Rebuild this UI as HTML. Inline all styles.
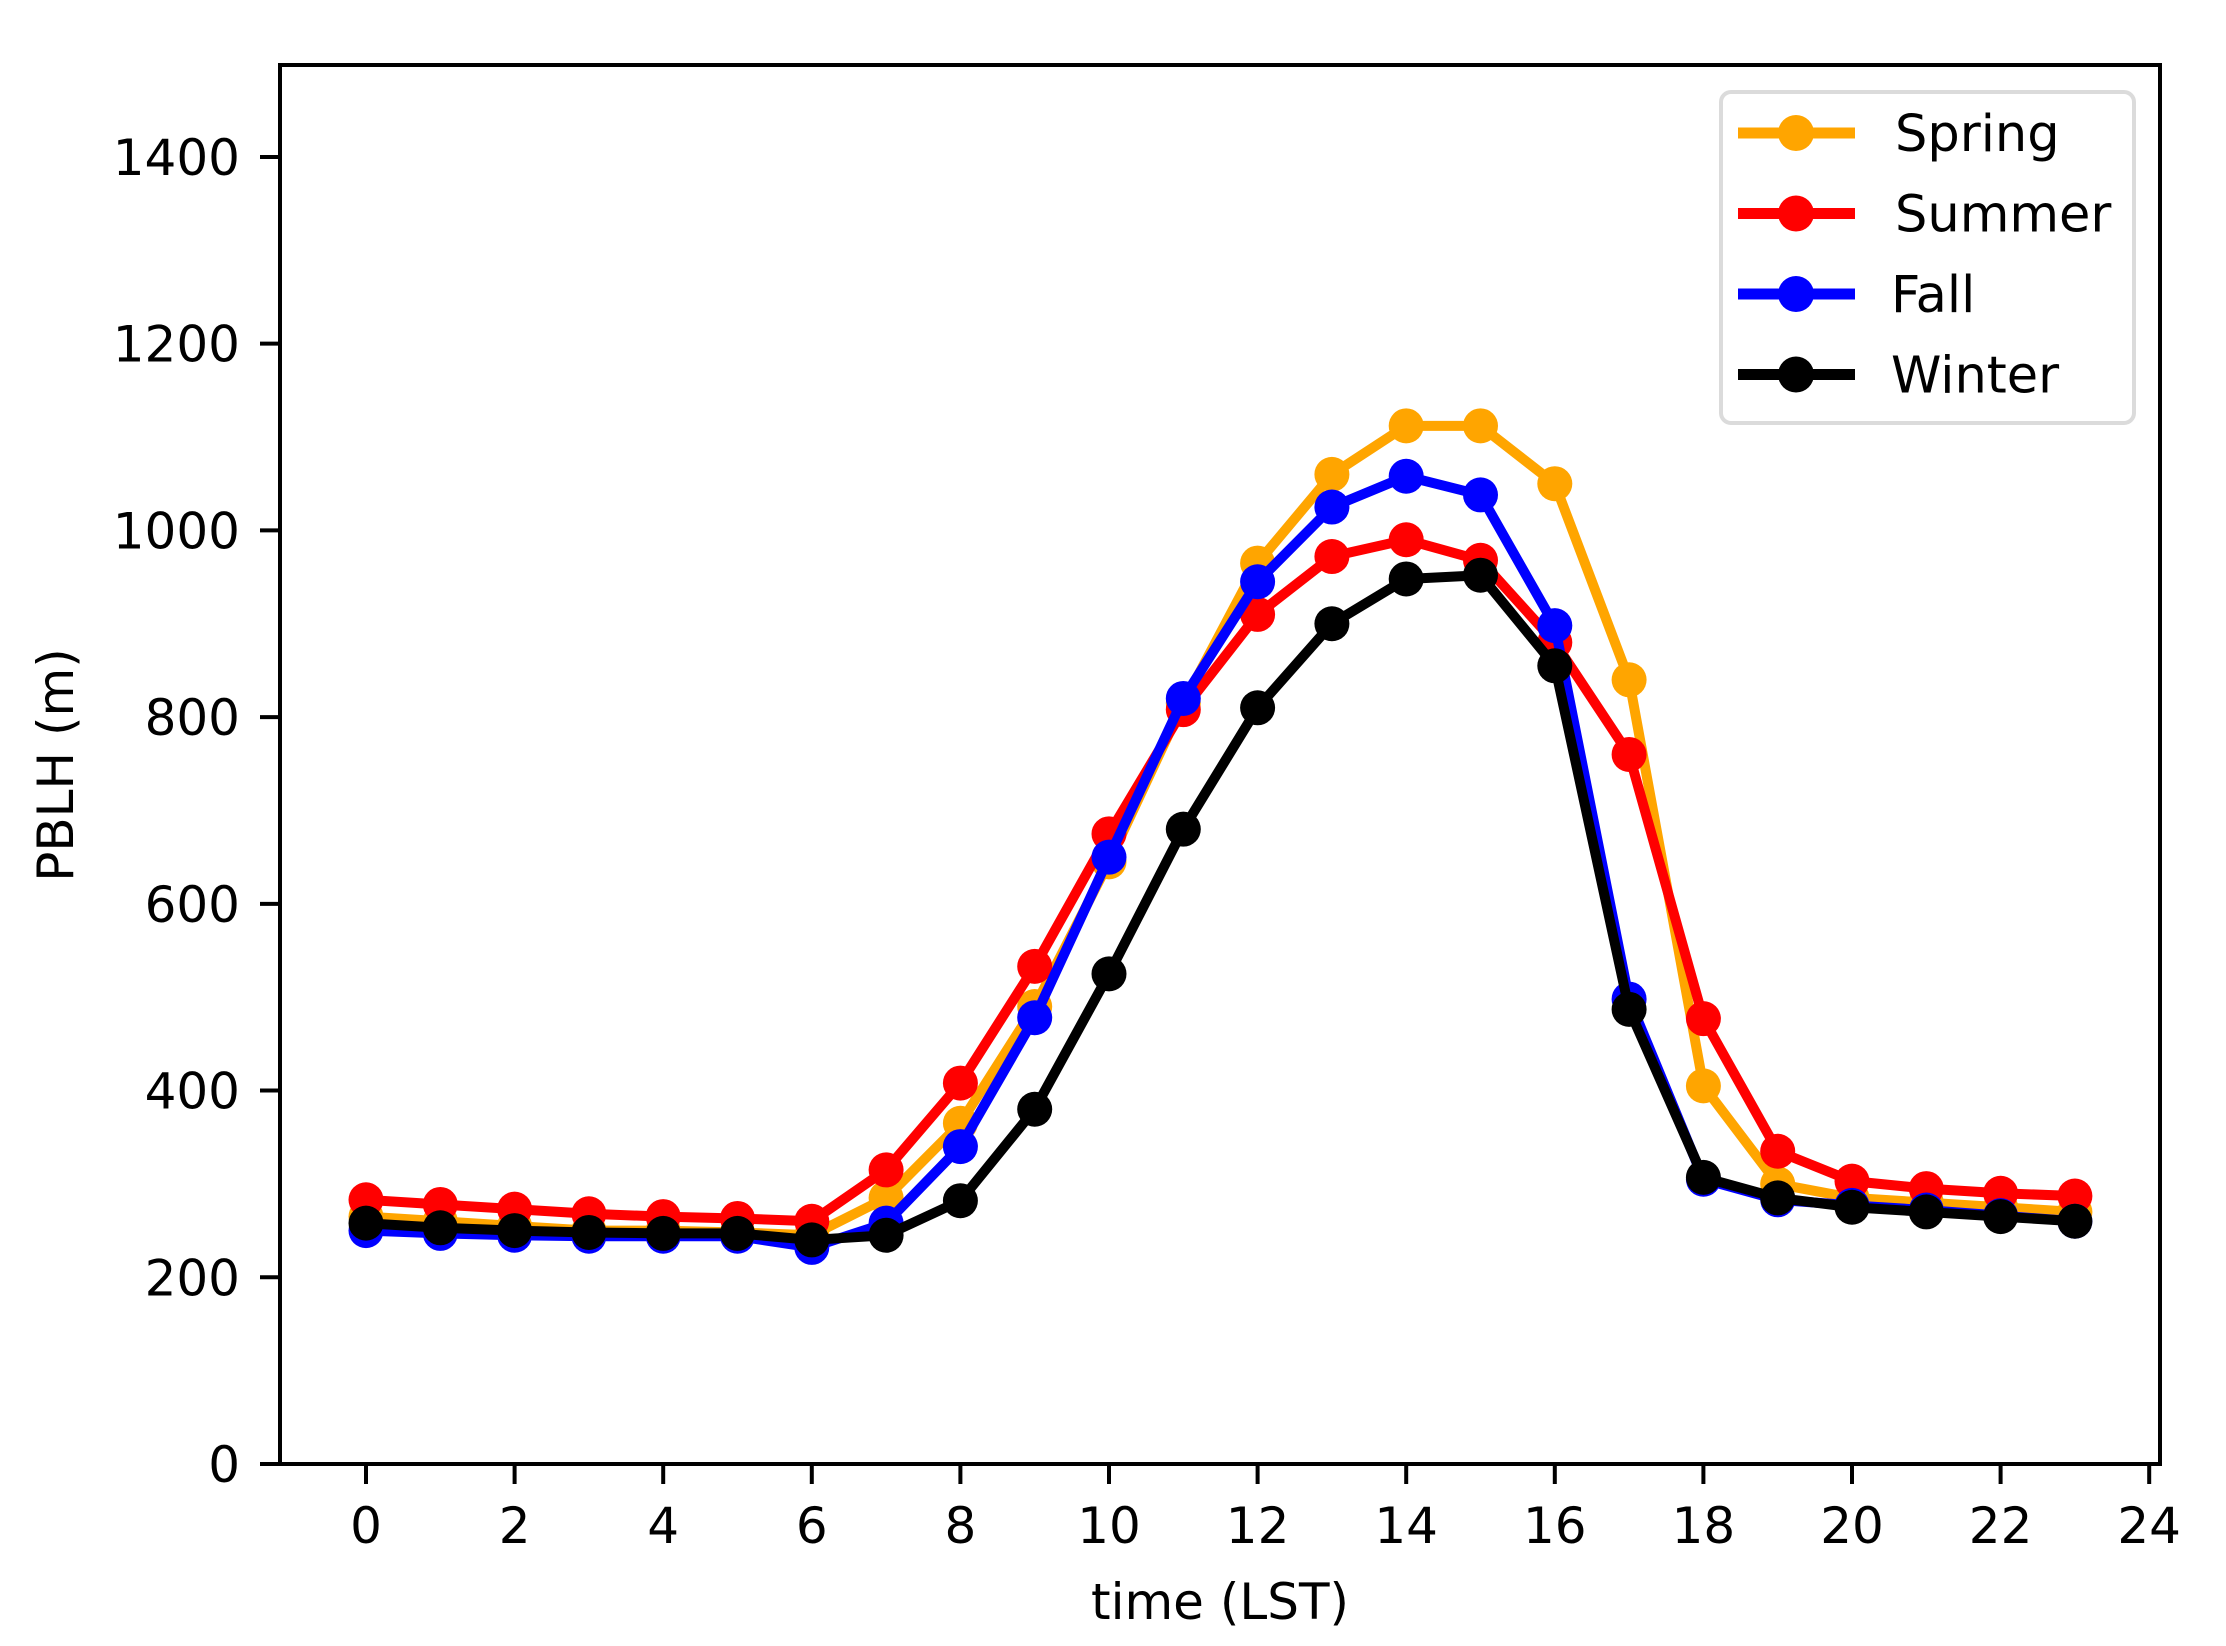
<!DOCTYPE html>
<html><head><meta charset="utf-8"><style>
html,body{margin:0;padding:0;background:#fff;}
svg{display:block;font-family:"DejaVu Sans","Liberation Sans",sans-serif;}
</style></head><body>
<svg id="chart" width="2226" height="1646" viewBox="0 0 2226 1646" xmlns="http://www.w3.org/2000/svg">
<rect x="0" y="0" width="2226" height="1646" fill="#fff"/>
<g id="plot"></g>
</svg>
<script>
const hours = [0,1,2,3,4,5,6,7,8,9,10,11,12,13,14,15,16,17,18,19,20,21,22,23];
const spring = [265,260,255,250,250,248,245,285,365,490,645,815,965,1060,1112,1112,1050,840,405,300,285,280,275,270];
const summer = [283,278,273,268,265,263,260,315,408,533,675,808,910,972,990,968,880,760,477,335,303,295,290,287];
const fall = [250,247,245,244,244,244,232,258,340,478,650,820,945,1025,1058,1038,898,498,305,283,277,272,266,260];
const winter = [258,253,250,248,247,247,240,245,282,380,525,680,810,900,948,952,855,487,307,285,275,270,265,260];
const xTicks = [0,2,4,6,8,10,12,14,16,18,20,22,24];
const yTicks = [0,200,400,600,800,1000,1200,1400];
const seriesNames = ["Spring","Summer","Fall","Winter"];
const seriesColors = ["#ffa500","#ff0000","#0000ff","#000000"];

const L=280,R=2160,T=65,B=1464;
function xs(h){return 366+h*74.3;}
function ys(v){return B-v*0.9336;}
const NS="http://www.w3.org/2000/svg";
const g=document.getElementById('plot');
function mk(tag,attrs,parent){const e=document.createElementNS(NS,tag);for(const k in attrs)e.setAttribute(k,attrs[k]);(parent||g).appendChild(e);return e;}

const allSeries=[spring,summer,fall,winter];
allSeries.forEach((data,si)=>{
  const sg=mk('g',{});
  
  
  const pts=data.map((v,i)=>xs(hours[i])+','+ys(v)).join(' ');
  const pl=mk('polyline',{points:pts,fill:'none',stroke:seriesColors[si],'stroke-width':10,'stroke-linejoin':'round'},sg);
  
  
  data.forEach((v,i)=>{
    const c=mk('circle',{cx:xs(hours[i]),cy:ys(v),r:17.5,fill:seriesColors[si]},sg);
    
    
  });
});

const fr=mk('rect',{x:L,y:T,width:R-L,height:B-T,fill:'none',stroke:'#000','stroke-width':4});



xTicks.forEach(t=>{
  const ln=mk('line',{x1:xs(t),x2:xs(t),y1:B,y2:B+20,stroke:'#000','stroke-width':4});
  
  
  const tx=mk('text',{x:xs(t),y:1543,'text-anchor':'middle','font-size':50,fill:'#000'});
  tx.textContent=t;
  
  
});
yTicks.forEach(t=>{
  const ln=mk('line',{x1:L-20,x2:L,y1:ys(t),y2:ys(t),stroke:'#000','stroke-width':4});
  
  
  const tx=mk('text',{x:L-40,y:ys(t)+18,'text-anchor':'end','font-size':50,fill:'#000'});
  tx.textContent=t;
  
  
});

const xl=mk('text',{x:1220,y:1619,'text-anchor':'middle','font-size':50,fill:'#000'});
xl.textContent='time (LST)';


const yl=mk('text',{x:0,y:0,'text-anchor':'middle','font-size':50,fill:'#000',transform:'translate(73,765) rotate(-90)'});
yl.textContent='PBLH (m)';



const lg=mk('g',{});


mk('rect',{x:1721,y:92,width:413,height:331,rx:10,fill:'#fff',stroke:'#d8d8d8','stroke-width':4,opacity:0.9},lg);
seriesNames.forEach((n,i)=>{
  const y=133+i*80.5;
  const eg=mk('g',{},lg);
  
  
  mk('line',{x1:1738,x2:1855,y1:y,y2:y,stroke:seriesColors[i],'stroke-width':11},eg);
  mk('circle',{cx:1796,cy:y,r:18,fill:seriesColors[i]},eg);
  const t=mk('text',{x:(n==='Fall'||n==='Winter')?1891:1895,y:y+18,'font-size':51,fill:'#000'},eg);
  t.textContent=n;
});
</script>
</body></html>
